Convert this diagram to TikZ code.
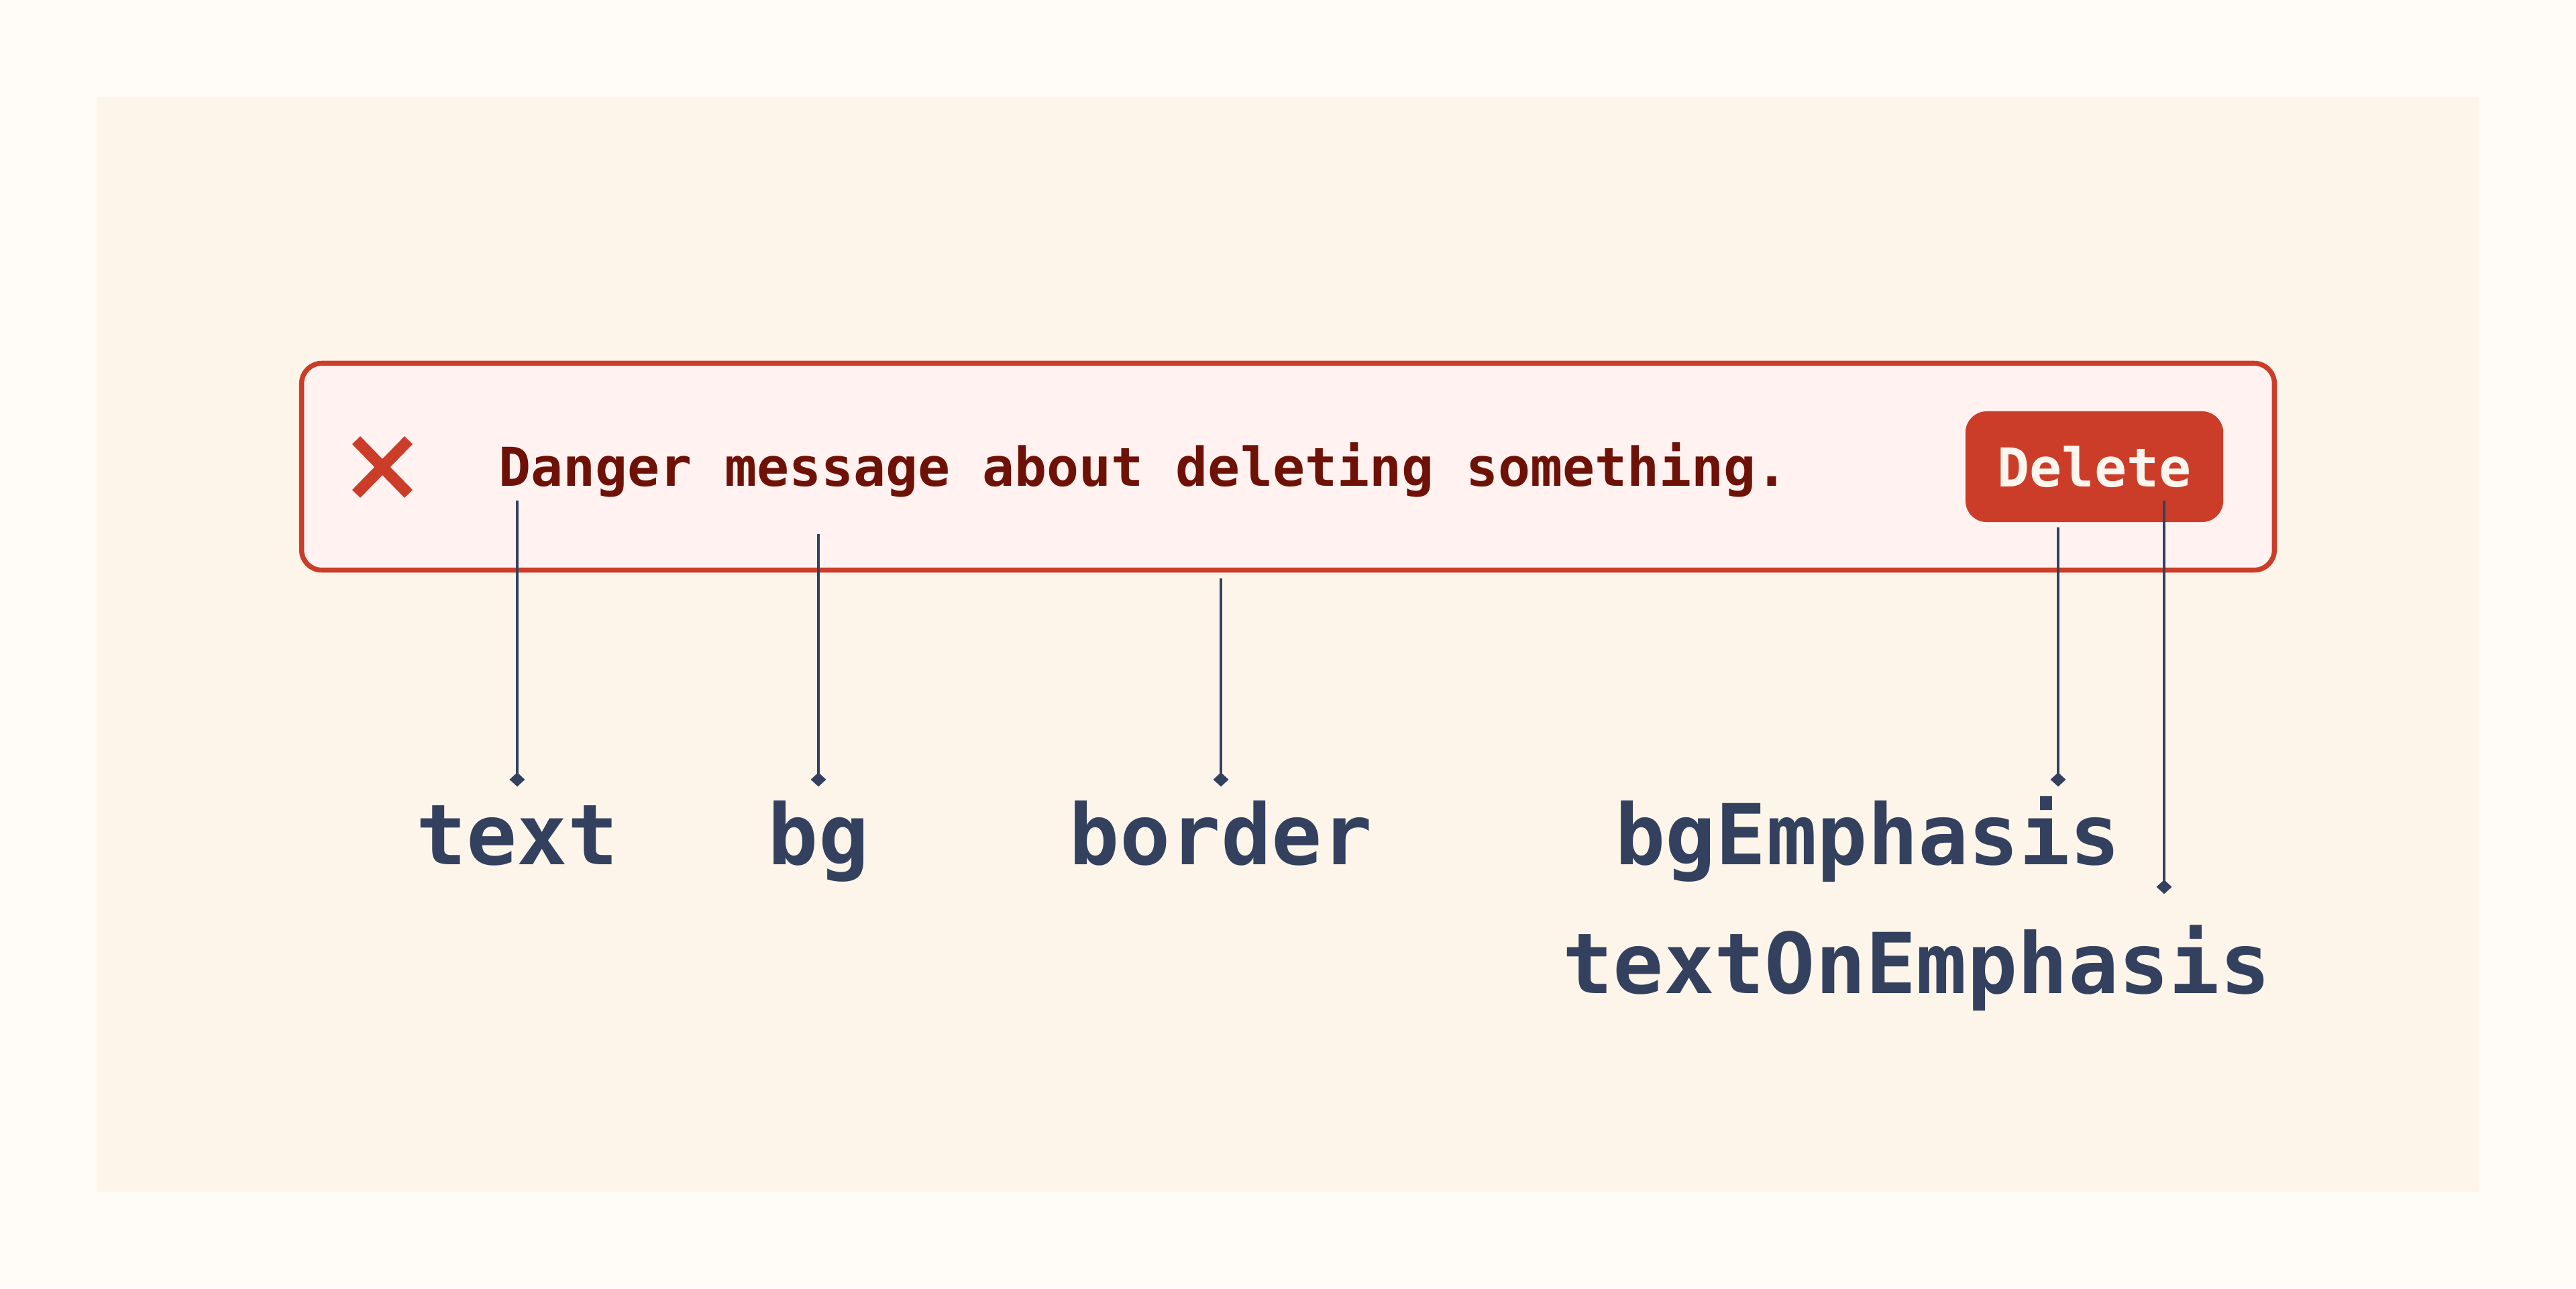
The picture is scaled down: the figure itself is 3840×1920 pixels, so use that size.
\documentclass[tikz,border=0pt]{standalone}
\usepackage{fontspec}
\setmonofont{DejaVu Sans Mono}
\usetikzlibrary{arrows.meta}
\definecolor{pagebg}{HTML}{FFFBF6}
\definecolor{panelbg}{HTML}{FEF5EA}
\definecolor{dangerred}{HTML}{CB3D29}
\definecolor{dangerbg}{HTML}{FFF2F0}
\definecolor{dangertext}{HTML}{6E1106}
\definecolor{btntext}{HTML}{FFF5EF}
\definecolor{navy}{HTML}{33415F}
\tikzset{
  alertbox/.style = {
    draw=dangerred, line width=2.1pt, fill=dangerbg,
    rounded corners=8.5pt, inner sep=0pt,
    minimum width=29.39cm, minimum height=3.08cm
  },
  btn/.style = {
    fill=dangerred, rounded corners=9pt, inner sep=0pt,
    minimum width=3.84cm, minimum height=1.65cm,
    text=btntext, font=\fontsize{22.7}{27}\selectfont\ttfamily\bfseries
  },
  msg/.style  = {font=\fontsize{22.7}{27}\selectfont\ttfamily\bfseries, text=dangertext, inner sep=0pt},
  tok/.style  = {
    font=\fontsize{35.6}{42}\selectfont\ttfamily\bfseries, text=navy,
    text height=27pt, text depth=8pt, inner sep=5.7pt, anchor=base % north sits at the diamond
  },
  lead/.style = {draw=navy, line width=1pt, -{Diamond[length=6pt,width=6.5pt]}}
}

\begin{document}
\begin{tikzpicture}[x=0.01cm, y=-0.01cm]
\useasboundingbox (0,0) rectangle (3840,1920);
\fill[pagebg] (0,0) rectangle (3840,1920);
\fill[panelbg] (144,144) rectangle (3696,1776);

% the danger alert
\node[alertbox] (alert) at (1920,695.5) {};
\draw[dangerred, line width=4.8pt] (531,656) -- (609,736)
                                   (609,656) -- (531,736); % close icon
\node[msg, anchor=base west] (msg) at (743,724) {Danger message about deleting something.};
\node[btn] (delete) at (3122,695.5) {Delete};

% where each token points
\coordinate (ptext)   at (771,746);
\coordinate (pbg)     at (1220,796);
\coordinate (pborder) at (1820,862);
\coordinate (pbgE)    at (3068,786);
\coordinate (ptoE)    at (3226,746);

% token names
\node[tok] (text)   at (771,1288)  {text};
\node[tok] (bg)     at (1220,1288) {bg};
\node[tok] (border) at (1820,1288) {border};
\node[tok] (bgE)    at (2784,1288) {bgEmphasis};
\node[tok] (toE)    at (2857,1480) {textOnEmphasis};

\draw[lead] (ptext)   -- (ptext |- text.north);
\draw[lead] (pbg)     -- (pbg |- bg.north);
\draw[lead] (pborder) -- (pborder |- border.north);
\draw[lead] (pbgE)    -- (pbgE |- bgE.north);
\draw[lead, shorten >=0.32cm] (ptoE) -- (ptoE |- toE.north); % stops above the second row
\end{tikzpicture}
\end{document}
